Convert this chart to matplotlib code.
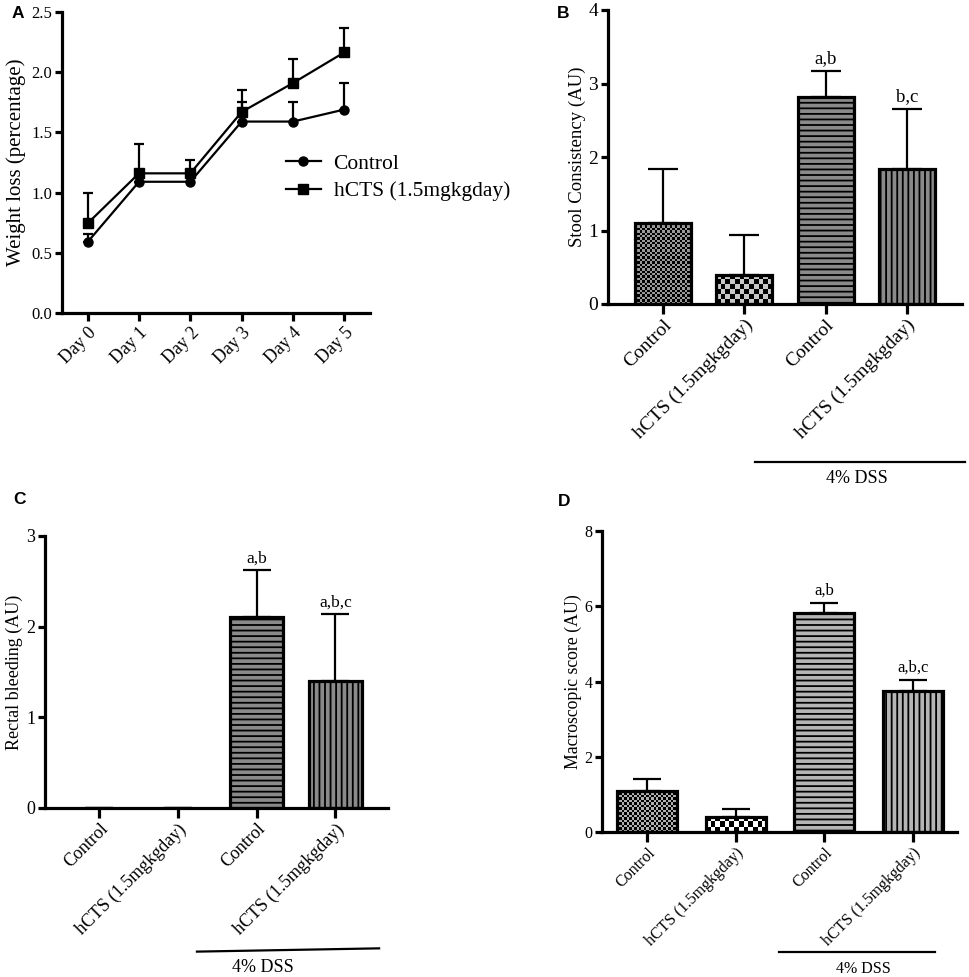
import numpy as np
import matplotlib
matplotlib.use("Agg")
import matplotlib.pyplot as plt
from matplotlib.colors import ListedColormap

plt.rcParams['font.family'] = ['Liberation Serif', 'DejaVu Serif']
plt.rcParams['hatch.linewidth'] = 1.3

# ---------------- data ----------------
days = ["Day 0", "Day 1", "Day 2", "Day 3", "Day 4", "Day 5"]
ctrl_mean = [0.59, 1.09, 1.09, 1.59, 1.59, 1.69]
ctrl_err = [0.07, 0.07, 0.07, 0.165, 0.165, 0.22]
hcts_mean = [0.745, 1.16, 1.16, 1.67, 1.91, 2.165]
hcts_err = [0.255, 0.24, 0.11, 0.18, 0.197, 0.205]
series_names = ["Control", "hCTS (1.5mgkgday)"]

groups = ["Control", "hCTS (1.5mgkgday)", "Control", "hCTS (1.5mgkgday)"]
stool_mean = [1.10, 0.40, 2.82, 1.83]
stool_err = [0.73, 0.54, 0.35, 0.82]
stool_sig = ["", "", "a,b", "b,c"]

bleed_mean = [0.0, 0.0, 2.11, 1.40]
bleed_err = [0.0, 0.0, 0.51, 0.735]
bleed_sig = ["", "", "a,b", "a,b,c"]

macro_mean = [1.09, 0.40, 5.81, 3.75]
macro_err = [0.33, 0.22, 0.28, 0.30]
macro_sig = ["", "", "a,b", "a,b,c"]

dss_label = "4% DSS"

# ---------------- figure ----------------
W, H = 969, 977
fig = plt.figure(figsize=(W / 100, H / 100), dpi=100)


def add_ax(left, top, right, bottom):
    return fig.add_axes([left / W, 1 - bottom / H, (right - left) / W, (bottom - top) / H])


def style_ax(ax, tick_fs):
    for s in ['top', 'right']:
        ax.spines[s].set_visible(False)
    for s in ['left', 'bottom']:
        ax.spines[s].set_linewidth(2.3)
        ax.spines[s].set_zorder(6)
    ax.tick_params(axis='both', direction='out', width=2.3, length=5, labelsize=tick_fs, pad=2)


def checker_fill(ax, patch, cell_px, c1, c2):
    x0, w, h = patch.get_x(), patch.get_width(), patch.get_height()
    if h <= 0:
        return
    p0 = ax.transData.transform((x0, 0))
    p1 = ax.transData.transform((x0 + w, h))
    nx = max(1, int(round(abs(p1[0] - p0[0]) / cell_px)))
    ny = max(1, int(round(abs(p1[1] - p0[1]) / cell_px)))
    arr = (np.add.outer(np.arange(ny), np.arange(nx)) % 2).astype(float)
    im = ax.imshow(arr, cmap=ListedColormap([c1, c2]), extent=(x0, x0 + w, 0, h),
                   origin='lower', aspect='auto', interpolation='nearest', zorder=2)
    im.set_clip_path(patch)


def bar_panel(ax, means, errs, sigs, ylim, yticks, xlim, width, tick_fs, xlab_fs, ylab, ylab_fs,
              sig_fs, capsize, light_ctrl='#9a9a9a', light_h='#c8c8c8', hgray='#8a8a8a'):
    x = np.arange(len(groups))
    ax.set_xlim(*xlim)
    ax.set_ylim(*ylim)
    styles = [dict(facecolor='none'), dict(facecolor='none'),
              dict(facecolor=hgray, hatch='---'), dict(facecolor=hgray, hatch='|||')]
    bars = []
    for i in range(len(groups)):
        b = ax.bar(x[i], means[i], width=width, edgecolor='black',
                   linewidth=2.3 if means[i] > 0 else 0, zorder=3, **styles[i])
        bars.append(b[0])
    checker_fill(ax, bars[0], 2.4, 'black', light_ctrl)
    checker_fill(ax, bars[1], 4.6, 'black', light_h)
    ax.errorbar(x, means, yerr=[np.zeros(len(x)), errs], fmt='none', ecolor='black',
                elinewidth=1.6, capsize=capsize, capthick=1.6, zorder=2.5)
    for i, s in enumerate(sigs):
        if s:
            ax.annotate(s, (x[i], means[i] + errs[i]), xytext=(0, 3), textcoords='offset points',
                        ha='center', va='bottom', fontsize=sig_fs)
    ax.set_yticks(yticks)
    ax.set_yticklabels([str(t) for t in yticks])
    ax.set_xticks(x)
    ax.set_xticklabels(groups, rotation=45, ha='right', rotation_mode='anchor', fontsize=xlab_fs)
    ax.set_ylabel(ylab, fontsize=ylab_fs, labelpad=2)
    ax.set_xlim(*xlim)
    ax.set_ylim(*ylim)


def dss(ax, x0, y0, x1, y1, tx, ty, fs):
    ax.plot([x0, x1], [y0, y1], transform=ax.transAxes, color='black', lw=1.6, clip_on=False)
    ax.text(tx, ty, dss_label, transform=ax.transAxes, ha='center', va='center', fontsize=fs)


# ---------- Panel A ----------
axA = add_ax(62, 12, 370, 313)
style_ax(axA, 12)
xd = np.arange(len(days))
cA = axA.errorbar(xd, ctrl_mean, yerr=[np.zeros(len(xd)), ctrl_err], color='black', lw=1.6,
                  marker='o', ms=6.5, capsize=3.8, capthick=1.6, elinewidth=1.6)
hA = axA.errorbar(xd, hcts_mean, yerr=[np.zeros(len(xd)), hcts_err], color='black', lw=1.6,
                  marker='s', ms=6.5, capsize=3.8, capthick=1.6, elinewidth=1.6)
axA.set_xlim(-0.5, 5.5)
axA.set_ylim(0, 2.5)
axA.set_yticks([0.0, 0.5, 1.0, 1.5, 2.0, 2.5])
axA.set_yticklabels(["0.0", "0.5", "1.0", "1.5", "2.0", "2.5"])
axA.set_xticks(xd)
axA.set_xticklabels(days, rotation=45, ha='right', rotation_mode='anchor', fontsize=13)
axA.tick_params(axis='x', length=6)
axA.set_ylabel("Weight loss (percentage)", fontsize=15, labelpad=4)
axA.legend([cA[0], hA[0]], series_names, loc='center left', bbox_to_anchor=(0.70, 0.45),
           frameon=False, fontsize=15.5, handlelength=1.6, handletextpad=0.6,
           labelspacing=0.35, borderaxespad=0)

# ---------- Panel B ----------
axB = add_ax(608, 10, 962, 304)
style_ax(axB, 14)
bar_panel(axB, stool_mean, stool_err, stool_sig, (0, 4), [0, 1, 2, 3, 4], (-0.68, 3.68), 0.69,
          14, 14, "Stool Consistency (AU)", 13.5, 13.5, 10.5)
axB.tick_params(axis='x', length=7)
dss(axB, 0.415, -0.537, 1.008, -0.537, 0.703, -0.595, 13)

# ---------- Panel C ----------
axC = add_ax(45, 536, 388, 808)
style_ax(axC, 13)
bar_panel(axC, bleed_mean, bleed_err, bleed_sig, (0, 3), [0, 1, 2, 3], (-0.69, 3.67), 0.67,
          13, 13, "Rectal bleeding (AU)", 13, 12.5, 10)
axC.tick_params(axis='x', length=7)
dss(axC, 0.443, -0.528, 0.974, -0.516, 0.636, -0.585, 13)

# ---------- Panel D ----------
axD = add_ax(602, 531, 957, 832)
style_ax(axD, 11.5)
bar_panel(axD, macro_mean, macro_err, macro_sig, (0, 8), [0, 2, 4, 6, 8], (-0.51, 3.5), 0.68,
          11.5, 11.5, "Macroscopic score (AU)", 12.8, 12, 10, light_ctrl='#b0b0b0',
          light_h='#ffffff', hgray='#b5b5b5')
axD.tick_params(axis='x', length=7)
dss(axD, 0.499, -0.400, 0.938, -0.400, 0.735, -0.455, 11.5)

# ---------- Panel letters ----------
for lab, px, py in [("A", 12, 13), ("B", 557, 13), ("C", 13, 500), ("D", 558, 501)]:
    fig.text(px / W, 1 - py / H, lab, fontsize=12.5, fontweight='bold',
             family=['Liberation Sans', 'DejaVu Sans'], ha='left', va='center')

fig.savefig("out.png", dpi=100)
